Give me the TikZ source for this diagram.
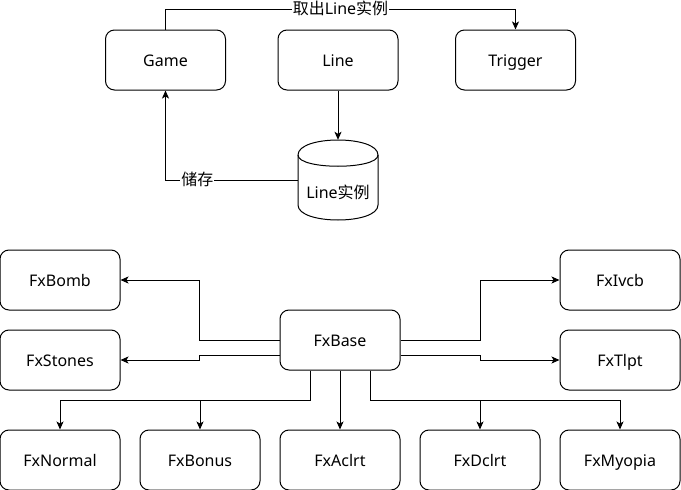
\documentclass[tikz,border=0pt]{standalone}
\usepackage{fontspec}
\setmainfont{Noto Sans}
\newfontfamily\cjk{Noto Sans CJK SC}
\usetikzlibrary{arrows.meta}
\begin{document}
\begin{tikzpicture}[x=1pt,y=-1pt,
  box/.style={draw, line width=1pt, rounded corners=9pt, minimum width=120pt, minimum height=60pt, inner sep=0pt, text height=14pt, text depth=1pt, font=\fontsize{16pt}{19pt}\selectfont},
  conn/.style={draw, line width=1pt, -{Stealth[length=8pt,width=7pt,inset=2pt]}},
  lbl/.style={fill=white, inner sep=1pt, text height=13pt, text depth=3pt, font=\fontsize{16pt}{19pt}\selectfont}]
\useasboundingbox (0,0) rectangle (681,490);
% top part
\node[box] (game) at (165.5,60) {Game};
\node[box] (line) at (338,60) {Line};
\node[box] (trigger) at (515.5,60) {Trigger};
\node[minimum width=80pt, minimum height=80pt, inner sep=0pt] (cyl) at (338,180) {};
\draw[line width=1pt] (298,155) .. controls (298,135) and (378,135) .. (378,155)
  -- (378,205) .. controls (378,225) and (298,225) .. (298,205) -- cycle;
\draw[line width=1pt] (298,155) .. controls (298,170) and (378,170) .. (378,155);
\node[font=\fontsize{16pt}{19pt}\selectfont, inner sep=0pt, text height=14pt, text depth=1pt] (cyltext) at (338,192) {Line{\cjk 实例}};
\draw[conn] (game.north) -- ([yshift=20pt]game.north) -- node[lbl] {{\cjk 取出}Line{\cjk 实例}} ([yshift=20pt]trigger.north) -- (trigger.north);
\draw[conn] (line.south) -- (cyl.north);
\draw[conn] (cyl.west) -- node[lbl, pos=0.76] {\cjk 储存} (game.south |- cyl.west) -- (game.south);
% bottom part
\node[box] (fxbomb) at (60,280) {FxBomb};
\node[box] (fxstones) at (60,360) {FxStones};
\node[box] (fxbase) at (340,340) {FxBase};
\node[box] (fxivcb) at (620,280) {FxIvcb};
\node[box] (fxtlpt) at (620,360) {FxTlpt};
\node[box] (fxnormal) at (60,460) {FxNormal};
\node[box] (fxbonus) at (200,460) {FxBonus};
\node[box] (fxaclrt) at (340,460) {FxAclrt};
\node[box] (fxdclrt) at (480,460) {FxDclrt};
\node[box] (fxmyopia) at (620,460) {FxMyopia};
\draw[conn] (fxbase.west) -- ([xshift=-80pt]fxbase.west) |- (fxbomb.east);
\draw[conn] ([yshift=-15pt]fxbase.west) -- ([xshift=-80pt,yshift=-15pt]fxbase.west) |- (fxstones.east);
\draw[conn] (fxbase.east) -- ([xshift=80pt]fxbase.east) |- (fxivcb.west);
\draw[conn] ([yshift=-15pt]fxbase.east) -- ([xshift=80pt,yshift=-15pt]fxbase.east) |- (fxtlpt.west);
\draw[conn] ([xshift=-30pt]fxbase.south) -- ([xshift=-30pt,yshift=-30pt]fxbase.south) -| (fxnormal.north);
\draw[conn] ([xshift=-30pt]fxbase.south) -- ([xshift=-30pt,yshift=-30pt]fxbase.south) -| (fxbonus.north);
\draw[conn] (fxbase.south) -- (fxaclrt.north);
\draw[conn] ([xshift=30pt]fxbase.south) -- ([xshift=30pt,yshift=-30pt]fxbase.south) -| (fxdclrt.north);
\draw[conn] ([xshift=30pt]fxbase.south) -- ([xshift=30pt,yshift=-30pt]fxbase.south) -| (fxmyopia.north);
\end{tikzpicture}
\end{document}
